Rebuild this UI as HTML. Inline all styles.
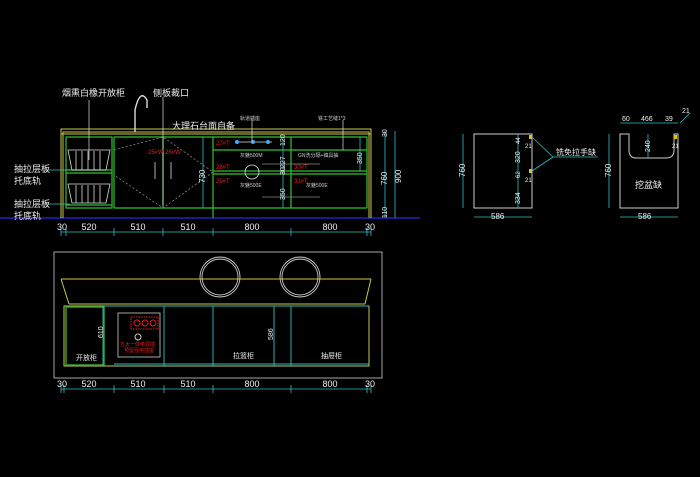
<!DOCTYPE html>
<html><head><meta charset="utf-8"><style>
html,body{margin:0;padding:0;background:#000;}
svg{display:block}
text{font-family:"Liberation Sans","Noto Sans CJK SC",sans-serif;}
</style></head><body>
<svg width="700" height="477" viewBox="0 0 700 477" xmlns="http://www.w3.org/2000/svg">
<rect width="700" height="477" fill="#000"/>
<!-- floor line -->
<line x1="0" y1="218" x2="420" y2="218" stroke="#2020c0" stroke-width="1.5"/>
<!-- top elevation frame -->
<g fill="none" stroke="#c8c850" stroke-width="1">
<path d="M61,218 V129 H371 V218"/>
<path d="M63,218 V132 H369 V218"/>
<line x1="61" y1="134" x2="371" y2="134"/>
</g>
<g fill="none" stroke="#30c030" stroke-width="1.2">
<rect x="66" y="137" width="46" height="71"/>
<line x1="66" y1="170" x2="112" y2="170"/>
<line x1="66" y1="173" x2="112" y2="173"/>
<line x1="66" y1="205" x2="112" y2="205"/>
<line x1="114" y1="137" x2="367" y2="137"/>
<line x1="114" y1="208" x2="367" y2="208"/>
<line x1="114" y1="137" x2="114" y2="208"/>
<line x1="213" y1="137" x2="213" y2="218"/>
<line x1="291" y1="137" x2="291" y2="208"/>
<line x1="367" y1="137" x2="367" y2="208"/>
<line x1="213" y1="150" x2="367" y2="150"/>
<line x1="213" y1="171" x2="367" y2="171"/>
<line x1="213" y1="174" x2="367" y2="174"/>
<line x1="163" y1="137" x2="163" y2="208"/>
</g>
<!-- baskets -->
<g fill="none" stroke="#ddd" stroke-width="0.8">
<path d="M68,150 L72,170 H106 L110,150 Z"/>
<path d="M68,184 L72,203 H106 L110,184 Z"/>
<path d="M76,151V170M82,151V170M88,151V170M94,151V170M100,151V170"/>
<path d="M76,185V203M82,185V203M88,185V203M94,185V203M100,185V203"/>
<path d="M114,150 L163,137 L213,172 L163,208 L114,175" stroke="#888" stroke-dasharray="2,2"/>
<path d="M155,162V179M171,162V179"/>
<path d="M135,132 V110 Q140,88 147,100 V108" stroke-width="1.4"/>
<circle cx="252" cy="172" r="7"/>
<line x1="236" y1="142" x2="272" y2="142"/>
<line x1="262" y1="164" x2="320" y2="164" stroke="#888"/>
<line x1="262" y1="197" x2="320" y2="197" stroke="#888"/>
</g>
<g fill="#4af"><circle cx="237" cy="142" r="2"/><circle cx="253" cy="142" r="2"/><circle cx="268" cy="142" r="2"/></g>
<!-- leaders -->
<g stroke="#ddd" stroke-width="0.7">
<line x1="89" y1="100" x2="89" y2="160"/>
<line x1="163" y1="97" x2="163" y2="205"/>
<line x1="252" y1="118" x2="252" y2="142"/>
<line x1="343" y1="120" x2="343" y2="150"/>
</g>
<g stroke="#30c0c0" stroke-width="0.8">
<line x1="45" y1="170" x2="70" y2="170"/><line x1="45" y1="204" x2="70" y2="204"/>
</g>
<!-- text top -->
<g fill="#eee" font-size="9">
<text x="62" y="96">烟熏白橡开放柜</text>
<text x="153" y="96">侧板裁口</text>
<text x="172" y="129">大理石台面自备</text>
<text x="14" y="172">抽拉层板</text><text x="14" y="184">托底轨</text>
<text x="14" y="207">抽拉层板</text><text x="14" y="219">托底轨</text>
</g>
<g fill="#ccc" font-size="5">
<text x="240" y="120">轨道插座</text>
<text x="318" y="120">铣工艺缝1*3</text>
<text x="240" y="157">灰魅500M</text>
<text x="298" y="157">GN洗分隔+镇具抽</text>
<text x="240" y="187">灰魅500E</text>
<text x="306" y="187">灰魅500E</text>
</g>
<g fill="#e02020" font-size="6">
<text x="148" y="154">25#W</text><text x="165" y="154">26#W</text>
<text x="216" y="145">27#T</text><text x="216" y="169">28#T</text><text x="216" y="183">29#T</text>
<text x="294" y="169">30#T</text><text x="294" y="183">31#T</text>
</g>
<!-- vertical dims top -->
<g stroke="#30c0c0" stroke-width="0.8" fill="none">
<line x1="203" y1="137" x2="203" y2="208"/>
<line x1="283" y1="137" x2="283" y2="208"/>
<line x1="360" y1="137" x2="360" y2="171"/>
<line x1="385" y1="131" x2="385" y2="218"/>
<line x1="395" y1="131" x2="395" y2="218"/>
</g>
<g fill="#eee" font-size="8">
<text transform="translate(205,183) rotate(-90)">730</text>
<text transform="translate(285,146) rotate(-90)" font-size="7">120</text>
<text transform="translate(285,168) rotate(-90)" font-size="7">227</text>
<text transform="translate(285,175) rotate(-90)" font-size="7">30</text>
<text transform="translate(285,200) rotate(-90)" font-size="7">350</text>
<text transform="translate(362,164) rotate(-90)" font-size="7">350</text>
<text transform="translate(387,137) rotate(-90)" font-size="7">30</text>
<text transform="translate(387,185) rotate(-90)">760</text>
<text transform="translate(387,218) rotate(-90)" font-size="7">110</text>
<text transform="translate(401,183) rotate(-90)">900</text>
</g>
<!-- bottom dim top -->
<g stroke="#30c0c0" stroke-width="0.8">
<line x1="61" y1="232" x2="371" y2="232"/>
<path d="M61,228v8M66,228v8M114,228v8M163,228v8M213,228v8M291,228v8M367,228v8M371,228v8"/>
</g>
<g fill="#eee" font-size="9" text-anchor="middle">
<text x="62" y="230">30</text><text x="89" y="230">520</text><text x="138" y="230">510</text>
<text x="188" y="230">510</text><text x="252" y="230">800</text><text x="330" y="230">800</text><text x="370" y="230">30</text>
</g>
<!-- plan view -->
<rect x="54" y="252" width="328" height="126" fill="none" stroke="#ccc" stroke-width="0.8"/>
<g fill="none" stroke="#ccc" stroke-width="0.9">
<circle cx="220" cy="277" r="20"/><circle cx="220" cy="277" r="18"/>
<circle cx="300" cy="277" r="20"/><circle cx="300" cy="277" r="18"/>
</g>
<g fill="none" stroke="#c8c850" stroke-width="1">
<line x1="61" y1="279" x2="371" y2="279"/>
<line x1="69" y1="304" x2="365" y2="304"/>
<line x1="61" y1="279" x2="69" y2="304"/><line x1="371" y1="279" x2="365" y2="304"/>
<rect x="64" y="306" width="305" height="60"/>
</g>
<rect x="66" y="307" width="38" height="58" fill="none" stroke="#30a030" stroke-width="1.5"/>
<g stroke="#30c0c0" stroke-width="0.9">
<line x1="104" y1="306" x2="369" y2="306"/>
<line x1="114" y1="364" x2="369" y2="364"/>
<path d="M103,306V366M164,306V366M213,306V366M274,306V366M291,306V366"/>
</g>
<rect x="118" y="313" width="42" height="44" fill="none" stroke="#ccc" stroke-width="0.8"/>
<rect x="131" y="317" width="27" height="12" fill="none" stroke="#e02020" stroke-dasharray="1.5,1"/>
<g fill="none" stroke="#e02020"><circle cx="137" cy="323" r="3"/><circle cx="145" cy="323" r="3"/><circle cx="153" cy="323" r="3"/></g>
<circle cx="138" cy="337" r="3" fill="none" stroke="#ccc"/>
<g fill="#e02020" font-size="5"><text x="120" y="346">方太一体电源插</text><text x="124" y="352">预留强电插座</text></g>
<g fill="#eee" font-size="7">
<text x="76" y="360">开放柜</text><text x="233" y="358">拉篮柜</text><text x="321" y="358">抽屉柜</text>
<text transform="translate(103,338) rotate(-90)">610</text>
<text transform="translate(273,340) rotate(-90)">586</text>
</g>
<g stroke="#30c0c0" stroke-width="0.8">
<line x1="61" y1="389" x2="371" y2="389"/>
<path d="M61,385v8M64,385v8M114,385v8M164,385v8M213,385v8M291,385v8M367,385v8M371,385v8"/>
</g>
<g fill="#eee" font-size="9" text-anchor="middle">
<text x="62" y="387">30</text><text x="89" y="387">520</text><text x="138" y="387">510</text>
<text x="188" y="387">510</text><text x="252" y="387">800</text><text x="330" y="387">800</text><text x="370" y="387">30</text>
</g>
<!-- side views -->
<g fill="none" stroke="#ccc" stroke-width="1">
<rect x="474" y="134" width="58" height="74"/>
<path d="M620,134 V208 H678 V134 H674 V150 Q674,158 666,158 H636 Q629,158 629,150 V134 Z"/>
</g>
<g fill="#e0c020"><rect x="529" y="135" width="3" height="4"/><rect x="529" y="169" width="3" height="4"/><rect x="674" y="135" width="3" height="4"/></g>
<g stroke="#30c0c0" stroke-width="0.8" fill="none">
<line x1="463" y1="134" x2="463" y2="208"/>
<line x1="518" y1="134" x2="518" y2="208"/>
<line x1="474" y1="217" x2="532" y2="217"/>
<line x1="609" y1="134" x2="609" y2="208"/>
<line x1="620" y1="217" x2="678" y2="217"/>
<line x1="620" y1="123" x2="678" y2="123"/>
<line x1="648" y1="134" x2="648" y2="158"/>
<path d="M532,137 L553,157 H598 M532,171 L553,157"/>
<line x1="680" y1="123" x2="690" y2="113"/>
</g>
<g fill="#eee" font-size="8">
<text x="556" y="155">铣免拉手缺</text>
<text x="635" y="188" font-size="9">挖盆缺</text>
<text x="491" y="219">586</text><text x="638" y="219">586</text>
<text x="622" y="121" font-size="7">60</text><text x="641" y="121" font-size="7">466</text><text x="665" y="121" font-size="7">39</text>
<text x="682" y="113" font-size="7">21</text>
<text transform="translate(465,177) rotate(-90)">760</text>
<text transform="translate(611,177) rotate(-90)">760</text>
<text transform="translate(650,152) rotate(-90)" font-size="7">240</text>
<text transform="translate(520,163) rotate(-90)" font-size="7">320</text>
<text transform="translate(520,204) rotate(-90)" font-size="7">334</text>
<text transform="translate(520,144) rotate(-90)" font-size="6">44</text>
<text transform="translate(520,178) rotate(-90)" font-size="6">62</text>
<text x="525" y="148" font-size="6">21</text><text x="525" y="182" font-size="6">21</text><text x="672" y="148" font-size="6">21</text>
</g>
</svg>
</body></html>
